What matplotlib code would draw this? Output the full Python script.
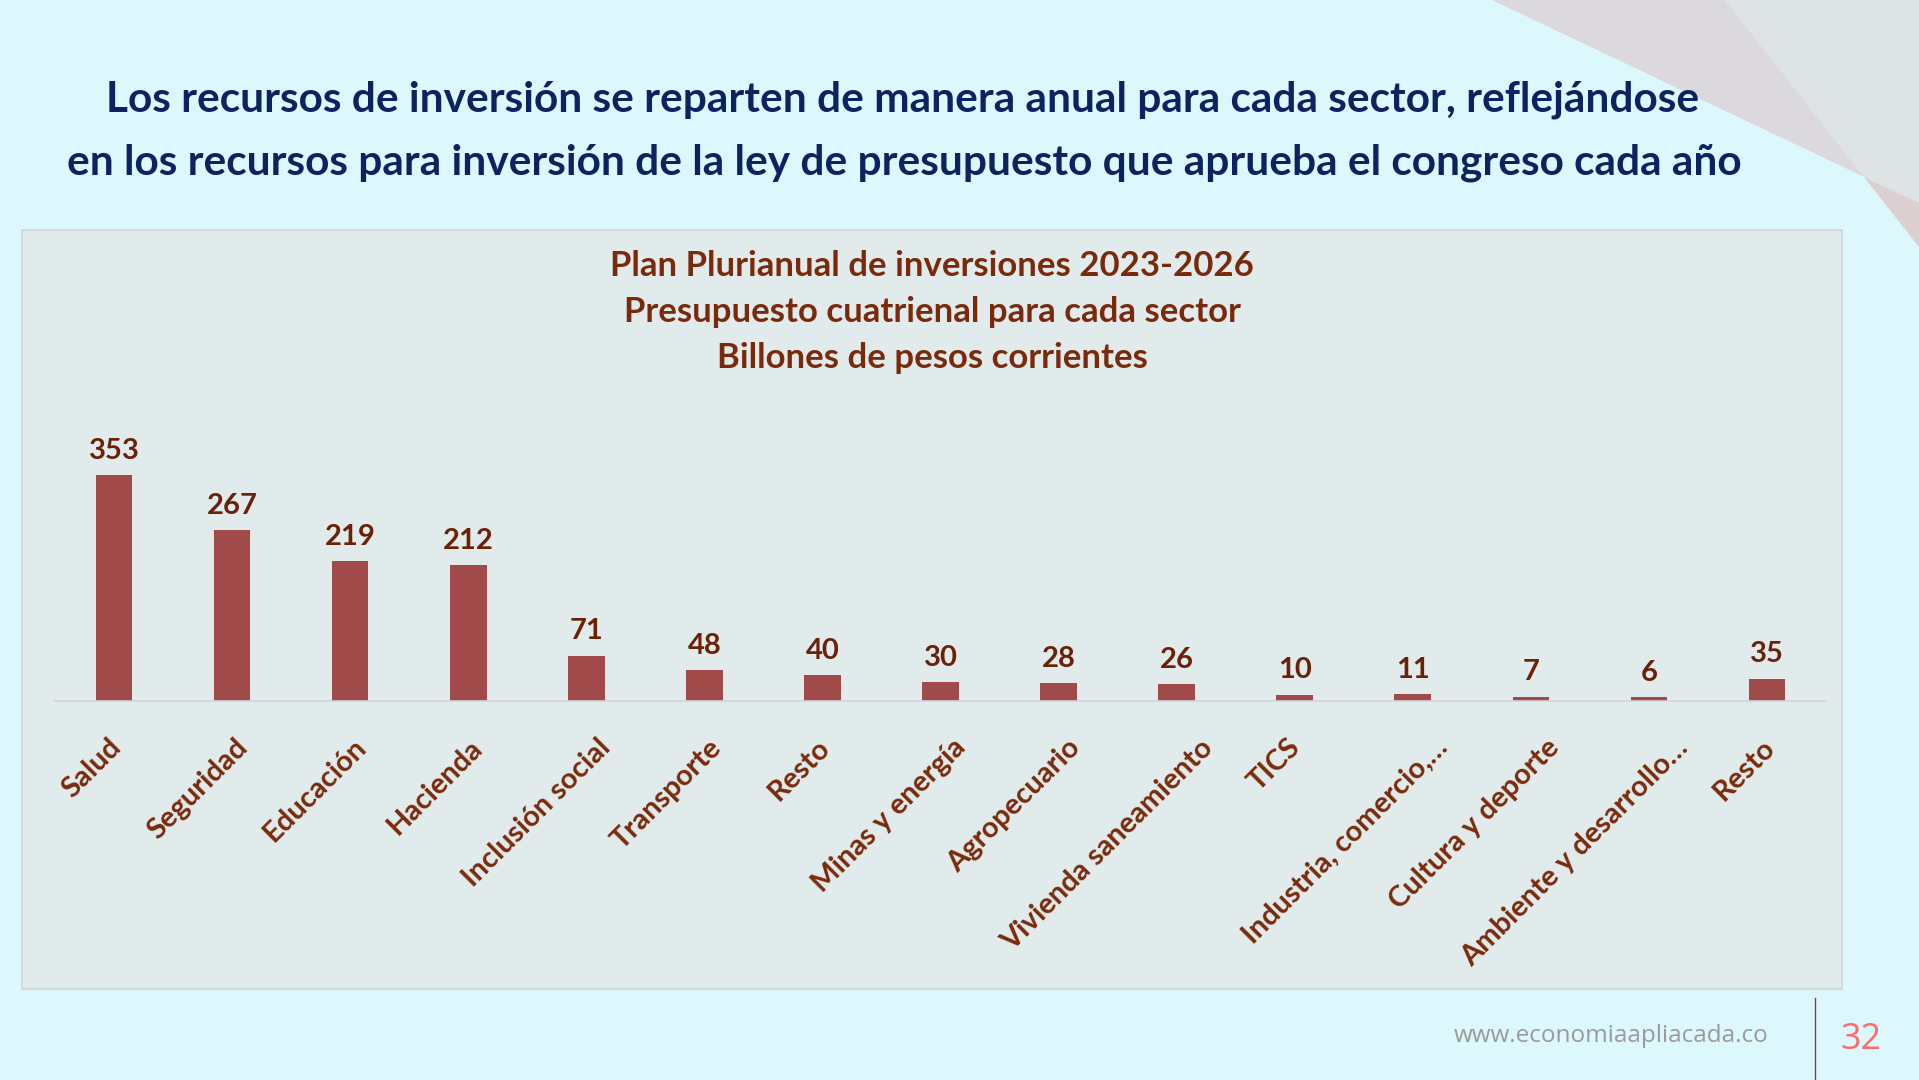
import matplotlib
matplotlib.use('Agg')
import matplotlib.pyplot as plt
from matplotlib.patches import Polygon, Rectangle

sectores = ['Salud', 'Seguridad', 'Educación', 'Hacienda', 'Inclusión social',
            'Transporte', 'Resto', 'Minas y energía', 'Agropecuario',
            'Vivienda saneamiento', 'TICS', 'Industria, comercio,…',
            'Cultura y deporte', 'Ambiente y desarrollo…', 'Resto']
billones = [353, 267, 219, 212, 71, 48, 40, 30, 28, 26, 10, 11, 7, 6, 35]

encabezado = ['Los recursos de inversión se reparten de manera anual para cada sector, reflejándose',
              'en los recursos para inversión de la ley de presupuesto que aprueba el congreso cada año']
titulo = ['Plan Plurianual de inversiones 2023-2026',
          'Presupuesto cuatrienal para cada sector',
          'Billones de pesos corrientes']

W, H = 1919, 1080
plt.rcParams['font.family'] = ['Lato', 'DejaVu Sans']

fig = plt.figure(figsize=(W / 100, H / 100), dpi=100)
fig.patch.set_facecolor('#dcf8fc')

# background layer in pixel coords
bg = fig.add_axes([0, 0, 1, 1])
bg.set_xlim(0, W)
bg.set_ylim(H, 0)
bg.axis('off')
bg.add_patch(Polygon([(1492, 0), (W, 0), (W, 203)], closed=True,
                     facecolor='#dcd9de', edgecolor='none'))
bg.add_patch(Polygon([(1725, 0), (W, 0), (W, 247)], closed=True,
                     facecolor='#dfe6e8', edgecolor='none', alpha=0.9))
bg.add_patch(Polygon([(1864, 177), (W, 203), (W, 247)], closed=True,
                     facecolor='#dccfd2', edgecolor='none'))
bg.add_patch(Rectangle((22, 230), 1820, 759, facecolor='#e1ebeb',
                       edgecolor='#cfd6d8', linewidth=1.2))

bg.text(903, 100, encabezado[0], ha='center', va='center', fontsize=30.5,
        fontweight='bold', color='#0d2260')
bg.text(904, 163, encabezado[1], ha='center', va='center', fontsize=30.5,
        fontweight='bold', color='#0d2260')
for i, linea in enumerate(titulo):
    bg.text(932, 266 + 46 * i, linea, ha='center', va='center', fontsize=25,
            fontweight='bold', color='#7a2a0a')

bg.text(1611, 1036, 'www.economiaapliacada.co', ha='center', va='center',
        fontsize=17.5, color='#9a9a9a', family=['Open Sans', 'DejaVu Sans'])
bg.plot([1815, 1815], [998, 1080], color='#8b3a3a', linewidth=1)
bg.text(1861, 1040, '32', ha='center', va='center', fontsize=26,
        color='#ff6b6b', family=['Open Sans', 'DejaVu Sans'])

# chart axes
ax = fig.add_axes([55 / W, (H - 701) / H, (1826 - 55) / W, 256 / H])
ax.set_facecolor('none')
x = range(len(sectores))
bars = ax.bar(x, billones, width=0.31, color='#a04a4a')
ax.set_xlim(-0.5, len(sectores) - 0.5)
ax.set_ylim(0, 400)
for b, v in zip(bars, billones):
    ax.annotate(str(v), (b.get_x() + b.get_width() / 2, v), xytext=(0, 8),
                textcoords='offset points', ha='center', va='bottom',
                fontsize=21, fontweight='bold', color='#6b2108')

# category labels, rotated like excel does (longer labels sit further right)
ax.set_xticks(list(x))
ax.set_xticklabels([])
ax.tick_params(axis='x', length=0)
etiquetas = []
for i, s in enumerate(sectores):
    t = ax.annotate(s, (i, 0), xycoords=('data', 'axes fraction'),
                    xytext=(0, -24), textcoords='offset points',
                    rotation=45, ha='right', va='top', rotation_mode='anchor',
                    fontsize=21, fontweight='bold', color='#7a2a0a')
    etiquetas.append(t)
fig.canvas.draw()
r = fig.canvas.get_renderer()
for t in etiquetas:
    w = t.get_window_extent(r).width
    dx = 0.19 * w - 19
    t.xyann = (dx * 72 / 100, -24)

ax.set_yticks([])
for s in ['top', 'right', 'left']:
    ax.spines[s].set_visible(False)
ax.spines['bottom'].set_color('#d4d4dc')
ax.spines['bottom'].set_linewidth(1.2)

fig.savefig('out.png', dpi=100, facecolor=fig.get_facecolor())
